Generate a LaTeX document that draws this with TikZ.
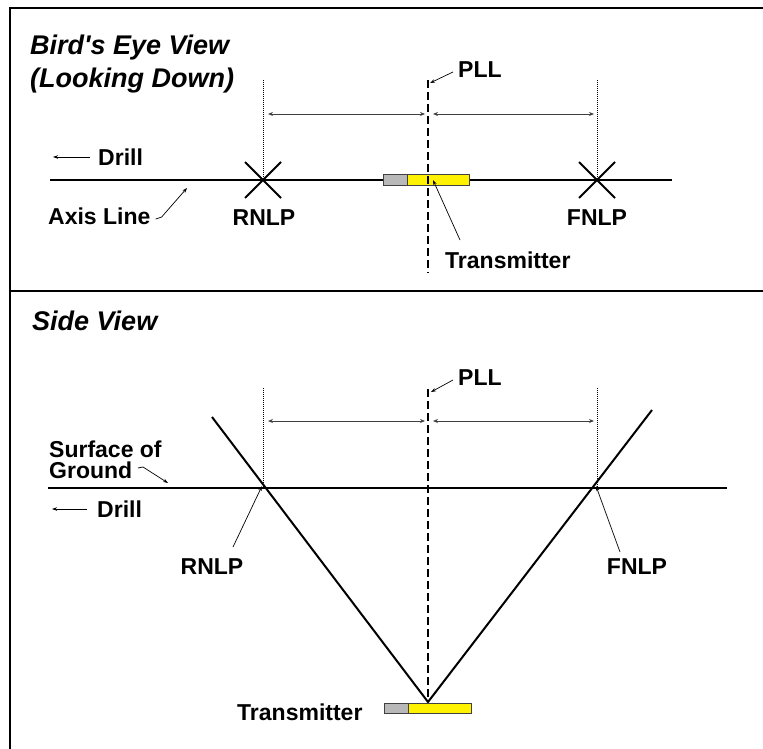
\documentclass[tikz,border=0pt]{standalone}
\usepackage{fontspec}
\setmainfont{Liberation Sans}
\usetikzlibrary{arrows.meta}
\tikzset{
  lbl/.style={font=\fontsize{23}{21}\selectfont\bfseries, inner sep=0pt},
  ttl/.style={font=\fontsize{27}{33}\selectfont\bfseries\itshape, inner sep=0pt, align=left},
  heavy/.style={line width=2pt},
  guide/.style={line width=0.6pt, dash pattern=on 1pt off 1pt},
  dimarrow/.style={line width=0.9pt, draw=black!75, {Stealth[length=5pt,width=4pt]}-{Stealth[length=5pt,width=4pt]}},
  lead/.style={line width=0.7pt, -{Stealth[length=5pt,width=3.5pt]}},
  plline/.style={line width=1.8pt, dash pattern=on 8pt off 4pt},
  tgray/.style={draw=black!75, line width=0.8pt, fill=black!28},
  tyellow/.style={draw=black!75, line width=0.8pt, fill=yellow},
}
\begin{document}
\begin{tikzpicture}[x=1pt,y=-1pt]
\useasboundingbox (0,0) rectangle (763,749);
% frame
\draw[line width=1.5pt] (763,8) -- (10,8) -- (10,749);
\draw[line width=1.5pt] (10,291) -- (763,291);

% ---------------- Bird's eye view ----------------
\node[ttl, anchor=north west] (title1) at (30,35) {Bird\textquotesingle s Eye View\\(Looking Down)};

\coordinate (axL) at (50,180);
\coordinate (axR) at (672,180);
\coordinate (R1) at (263,180);
\coordinate (F1) at (597,180);
\draw[heavy] (axL) -- (axR);
\draw[tgray] (383,174) rectangle (407,185);
\draw[tyellow] (407,174) rectangle (469,185);
\coordinate (pllTop1) at (428,80);
\coordinate (pllBot1) at (428,273);
\draw[plline] (pllTop1) -- (pllBot1);
\draw[heavy] (R1) ++(-18,-18) -- ++(36,36);
\draw[heavy] (R1) ++(-18,18) -- ++(36,-36);
\draw[heavy] (F1) ++(-18,-18) -- ++(36,36);
\draw[heavy] (F1) ++(-18,18) -- ++(36,-36);
\coordinate (gR1) at (263,80);
\coordinate (gF1) at (597,80);
\draw[guide] (gR1) -- (R1);
\draw[guide] (gF1) -- (F1);
\coordinate (d1a) at (268,114);
\coordinate (d1b) at (425,114);
\coordinate (d1c) at (433,114);
\coordinate (d1d) at (594,114);
\draw[dimarrow] (d1a) -- (d1b);
\draw[dimarrow] (d1c) -- (d1d);

\node[lbl, anchor=west] (pll1) at (458,70) {PLL};
\coordinate (pll1tip) at (430,83);
\draw[lead] ([xshift=-5pt,yshift=-2pt]pll1.west) -- (pll1tip);

\node[lbl, anchor=west] (drill1) at (98,157) {Drill};
\coordinate (dr1s) at (90,157);
\coordinate (dr1e) at (53,157);
\draw[lead] (dr1s) -- (dr1e);

\node[lbl, anchor=west] (axis) at (48,216) {Axis Line};
\coordinate (axTip) at (187,188);
\draw[lead] ([xshift=5pt,yshift=-3pt]axis.east) -- ++(6,-2) -- (axTip);

\node[lbl] (rnlp1) at (264,218) {RNLP};
\node[lbl] (fnlp1) at (597,218) {FNLP};

\node[lbl, anchor=west] (tx1) at (445,260) {Transmitter};
\coordinate (tx1s) at (460,240);
\coordinate (tx1e) at (433,180);
\draw[lead] (tx1s) -- (tx1e);

% ---------------- Side view ----------------
\node[ttl, anchor=base west] (title2) at (32,330) {Side View};

\coordinate (gL) at (48,488);
\coordinate (gR) at (727,488);
\draw[heavy] (gL) -- (gR);
\coordinate (T2) at (428,702);
\coordinate (vL) at (212,417);
\coordinate (vR) at (652,410);
\draw[heavy, line join=miter] (vL) -- (T2) -- (vR);
\draw[tgray] (384,703) rectangle (408,713);
\draw[tyellow] (408,703) rectangle (471,713);
\coordinate (pllTop2) at (428,389);
\draw[plline] (pllTop2) -- (T2);
\coordinate (R2) at (263,488);
\coordinate (F2) at (596,488);
\coordinate (gR2) at (263,388);
\coordinate (gF2) at (597,388);
\draw[guide] (gR2) -- (R2);
\draw[guide] (gF2) -- (597,488);
\coordinate (d2a) at (268,421);
\coordinate (d2b) at (425,421);
\coordinate (d2c) at (433,421);
\coordinate (d2d) at (594,421);
\draw[dimarrow] (d2a) -- (d2b);
\draw[dimarrow] (d2c) -- (d2d);

\node[lbl, anchor=west] (pll2) at (458,378) {PLL};
\coordinate (pll2tip) at (431,392);
\draw[lead] ([xshift=-5pt,yshift=-2pt]pll2.west) -- (pll2tip);

\node[lbl, anchor=west, align=left] (surf) at (49,460) {Surface of\\Ground};
\coordinate (surfTip) at (168,483);
\draw[lead] (138,468) -- (143,467) -- (surfTip);

\node[lbl, anchor=west] (drill2) at (97,509) {Drill};
\coordinate (dr2s) at (87,509);
\coordinate (dr2e) at (52,509);
\draw[lead] (dr2s) -- (dr2e);

\node[lbl] (rnlp2) at (212,567) {RNLP};
\node[lbl] (fnlp2) at (637,567) {FNLP};
\coordinate (rn2s) at (233,547);
\coordinate (fn2s) at (620,552);
\draw[lead] (rn2s) -- ([xshift=-1pt,yshift=2pt]R2);
\draw[lead] (fn2s) -- ([yshift=2pt]F2);

\node[lbl, anchor=west] (tx2) at (237,712) {Transmitter};
\end{tikzpicture}
\end{document}
